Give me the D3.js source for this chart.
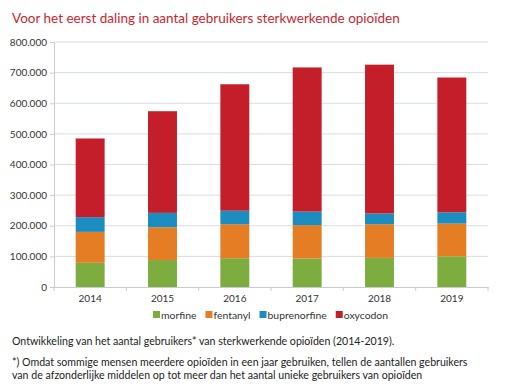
<!DOCTYPE html>
<html>
<head>
<meta charset="utf-8">
<script src="https://cdn.jsdelivr.net/npm/d3@7"></script>
<style>
  body { margin: 0; background: #fff; }
  svg { font-family: Lato, "Open Sans", sans-serif; }
</style>
</head>
<body>
<svg id="chart" width="509" height="386"></svg>
<script>
// data
const years = ['2014', '2015', '2016', '2017', '2018', '2019'];
const seriesNames = ['morfine', 'fentanyl', 'buprenorfine', 'oxycodon'];
const morfine = [79000, 88000, 94000, 93000, 95000, 100000];
const fentanyl = [101000, 107000, 111000, 109000, 110000, 107000];
const buprenorfine = [48000, 47000, 44000, 44000, 35000, 37000];
const oxycodon = [257000, 332000, 413000, 471000, 486000, 440000];
const yTicks = [0, 100000, 200000, 300000, 400000, 500000, 600000, 700000, 800000];
const colors = ['#7cad3e', '#e57d25', '#1b8dc1', '#c41e2a'];

const svg = d3.select('#chart');
const margin = { left: 54, right: 21, top: 42, bottom: 99 };
const width = 509 - margin.left - margin.right;
const height = 386 - margin.top - margin.bottom;

// titel
svg.append('text')
    .attr('x', 12).attr('y', 23)
    .attr('font-size', '13.5px')
    .attr('fill', '#c8262f')
    .text('Voor het eerst daling in aantal gebruikers sterkwerkende opioïden');

const g = svg.append('g').attr('transform', `translate(${margin.left},${margin.top})`);

const x = d3.scaleBand().domain(years).range([0, width]).paddingInner(0.6).paddingOuter(0.3);
const y = d3.scaleLinear().domain([0, 800000]).range([height, 0]);

// rasterlijnen
g.append('g')
    .selectAll('line')
    .data(yTicks.slice(1))
    .join('line')
    .attr('x1', 0).attr('x2', width)
    .attr('y1', d => y(d)).attr('y2', d => y(d))
    .attr('stroke', '#d9dde2')
    .attr('stroke-width', 1);

// y-as
const fmt = d => d3.format(',')(d).replace(/,/g, '.');
const yAxis = g.append('g')
    .call(d3.axisLeft(y).tickValues(yTicks).tickFormat(fmt).tickSize(4).tickPadding(3));
yAxis.select('.domain').attr('stroke', '#c8ccd1');
yAxis.selectAll('.tick line').attr('stroke', '#c8ccd1');
yAxis.selectAll('text').attr('font-size', '10px').attr('fill', '#333').attr('font-family', 'Lato, sans-serif');

// gestapelde balken
const rows = years.map((yr, i) => ({
    year: yr,
    morfine: morfine[i],
    fentanyl: fentanyl[i],
    buprenorfine: buprenorfine[i],
    oxycodon: oxycodon[i]
}));
const stack = d3.stack().keys(seriesNames)(rows);

g.append('g')
    .selectAll('g')
    .data(stack)
    .join('g')
    .attr('fill', (d, i) => colors[i])
    .selectAll('rect')
    .data(d => d)
    .join('rect')
    .attr('x', d => x(d.data.year))
    .attr('width', x.bandwidth())
    .attr('y', d => y(d[1]))
    .attr('height', d => y(d[0]) - y(d[1]));

// x-as
const xAxis = g.append('g')
    .attr('transform', `translate(0,${height})`)
    .call(d3.axisBottom(x).tickSize(0).tickPadding(8));
xAxis.select('.domain').attr('stroke', '#c8ccd1');
xAxis.selectAll('text').attr('font-size', '10px').attr('fill', '#333').attr('font-family', 'Lato, sans-serif');

// kleine streepjes tussen categorieën
g.append('g')
    .selectAll('line')
    .data(d3.range(years.length + 1))
    .join('line')
    .attr('x1', i => i * width / years.length).attr('x2', i => i * width / years.length)
    .attr('y1', height).attr('y2', height + 4)
    .attr('stroke', '#c8ccd1');

// legenda
const legend = svg.append('g').attr('transform', 'translate(153,315)');
let lx = 0;
seriesNames.forEach((name, i) => {
    const item = legend.append('g').attr('transform', `translate(${lx},0)`);
    item.append('rect')
        .attr('x', 0).attr('y', -4)
        .attr('width', 7).attr('height', 7)
        .attr('fill', colors[i]);
    const t = item.append('text')
        .attr('x', 8).attr('y', 3.5)
        .attr('font-size', '10.4px')
        .attr('fill', '#333')
        .text(name);
    lx += 8 + t.node().getComputedTextLength() + 9;
});

// bijschrift
const notes = [
    { y: 345, text: 'Ontwikkeling van het aantal gebruikers* van sterkwerkende opioïden (2014-2019).' },
    { y: 366, text: '*) Omdat sommige mensen meerdere opioïden in een jaar gebruiken, tellen de aantallen gebruikers' },
    { y: 379, text: 'van de afzonderlijke middelen op tot meer dan het aantal unieke gebruikers van opioïden' }
];
svg.append('g')
    .selectAll('text')
    .data(notes)
    .join('text')
    .attr('x', 12)
    .attr('y', d => d.y)
    .attr('font-size', '10.6px')
    .attr('fill', '#222')
    .text(d => d.text);
</script>
</body>
</html>
